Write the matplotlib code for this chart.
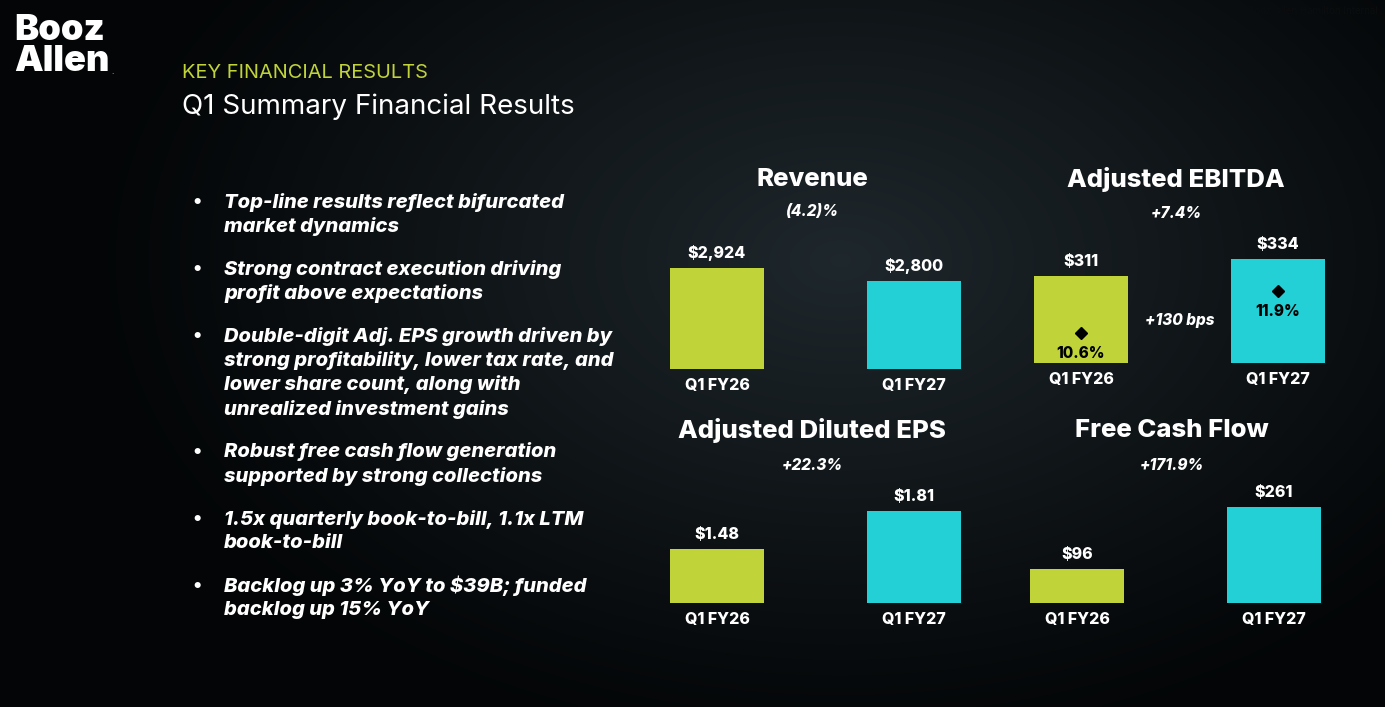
import numpy as np
import matplotlib
matplotlib.use("Agg")
import matplotlib.pyplot as plt

# --------------------------
# Data
# --------------------------
periods = ["Q1 FY26", "Q1 FY27"]
revenue = [2924, 2800]
ebitda = [311, 334]
ebitda_margin = [10.6, 11.9]
eps = [1.48, 1.81]
fcf = [96, 261]

revenue_change = "(4.2)%"
ebitda_change = "+7.4%"
eps_change = "+22.3%"
fcf_change = "+171.9%"
margin_change = "+130 bps"

bullets = [
    ["Top-line results reflect bifurcated", "market dynamics"],
    ["Strong contract execution driving", "profit above expectations"],
    ["Double-digit Adj. EPS growth driven by", "strong profitability, lower tax rate, and",
     "lower share count, along with", "unrealized investment gains"],
    ["Robust free cash flow generation", "supported by strong collections"],
    ["1.5x quarterly book-to-bill, 1.1x LTM", "book-to-bill"],
    ["Backlog up 3% YoY to $39B; funded", "backlog up 15% YoY"],
]

# --------------------------
# Style
# --------------------------
W, H = 1385, 707
GREEN = "#c0d43a"
CYAN = "#22d0d6"
FONT = ["Inter", "Roboto", "DejaVu Sans"]
plt.rcParams["font.family"] = FONT
HEAVY = 800

fig = plt.figure(figsize=(W / 100, H / 100), dpi=100)

# background gradient
bg = fig.add_axes([0, 0, 1, 1])
yy, xx = np.mgrid[0:H, 0:W]
d = np.sqrt(((xx - 840) / 760.0) ** 2 + ((yy - 260) / 500.0) ** 2)
t = np.clip(1 - d, 0, 1) ** 1.1
c0 = np.array([0.012, 0.02, 0.025])
c1 = np.array([0.12, 0.155, 0.175])
img = c0 + t[..., None] * (c1 - c0)
bg.imshow(img, aspect="auto", extent=[0, W, H, 0])
bg.set_xlim(0, W)
bg.set_ylim(H, 0)
bg.axis("off")


def px(x, y):
    return x / W, 1 - y / H


def txt(x, y, s, **kw):
    fx, fy = px(x, y)
    fig.text(fx, fy, s, **kw)


# header
txt(14, 46, "Booz\nAllen", color="white", fontsize=26, fontweight=900, va="center", ha="left",
    linespacing=0.95)
txt(111, 71, ".", color="white", fontsize=6, va="center", ha="left")
txt(182, 73, "KEY FINANCIAL RESULTS", color=GREEN, fontsize=14.4, va="center", ha="left")
txt(182, 107, "Q1 Summary Financial Results", color="white", fontsize=20, va="center", ha="left")
txt(1378, 11, "Booz Allen Hamilton Internal", color="#0b0d0f", fontsize=7, va="center", ha="right")

# bullets
y = 202
for item in bullets:
    txt(197, y, "\u2022", color="white", fontsize=14, fontweight="bold", va="center", ha="center")
    for line in item:
        txt(224, y, line, color="white", fontsize=14.5, fontweight=HEAVY, fontstyle="italic",
            va="center", ha="left")
        y += 24.3
    y += 18.5


def panel(cx, base_px, h_px, ylim, values, fmt, title, change, title_y, change_y):
    # cx: centre of first bar in px, base_px: bar baseline in px
    left = cx - 98.5
    ax = fig.add_axes([left / W, 1 - base_px / H, 394 / W, h_px / H])
    ax.set_facecolor("none")
    bars = ax.bar([0, 1], values, width=0.477, color=[GREEN, CYAN])
    ax.set_xlim(-0.5, 1.5)
    ax.set_ylim(*ylim)
    for s in ax.spines.values():
        s.set_visible(False)
    ax.set_yticks([])
    ax.set_xticks([0, 1], periods)
    ax.tick_params(axis="x", length=0, pad=6.5, colors="white", labelsize=11.5)
    for lab in ax.get_xticklabels():
        lab.set_fontweight(HEAVY)
    ax.bar_label(bars, labels=[fmt.format(v) for v in values], padding=5,
                 color="white", fontsize=11.5, fontweight=HEAVY)
    mid = cx + 95
    txt(mid, title_y, title, color="white", fontsize=18.5, fontweight=HEAVY, va="center", ha="center")
    txt(mid, change_y, change, color="white", fontsize=11, fontweight=HEAVY, fontstyle="italic",
        va="center", ha="center")
    return ax


panel(717, 369, 110, (1960, 3010), revenue, "${:,.0f}", "Revenue", revenue_change, 179, 212)
ax_e = panel(1081, 363, 120, (193, 355.4), ebitda, "${:,.0f}", "Adjusted EBITDA", ebitda_change, 179, 214)
panel(717, 603, 100, (1.011, 1.879), eps, "${:.2f}", "Adjusted Diluted EPS", eps_change, 431, 466)
panel(1077, 603, 100, (5.5, 271.6), fcf, "${:,.0f}", "Free Cash Flow", fcf_change, 431, 466)

# EBITDA margin markers
tw = ax_e.twinx()
tw.set_ylim(9.671, 13.386)
tw.set_facecolor("none")
tw.axis("off")
tw.plot([0, 1], ebitda_margin, linestyle="none", marker="D", color="black", markersize=6.5)
for i, m in enumerate(ebitda_margin):
    tw.annotate(f"{m:.1f}%", (i, m), xytext=(0, -14.5), textcoords="offset points",
                ha="center", va="center", color="black", fontsize=11, fontweight=HEAVY)
txt(1180, 321, margin_change, color="white", fontsize=11, fontweight=HEAVY, fontstyle="italic",
    va="center", ha="center")

fig.savefig("out.png", dpi=100)
